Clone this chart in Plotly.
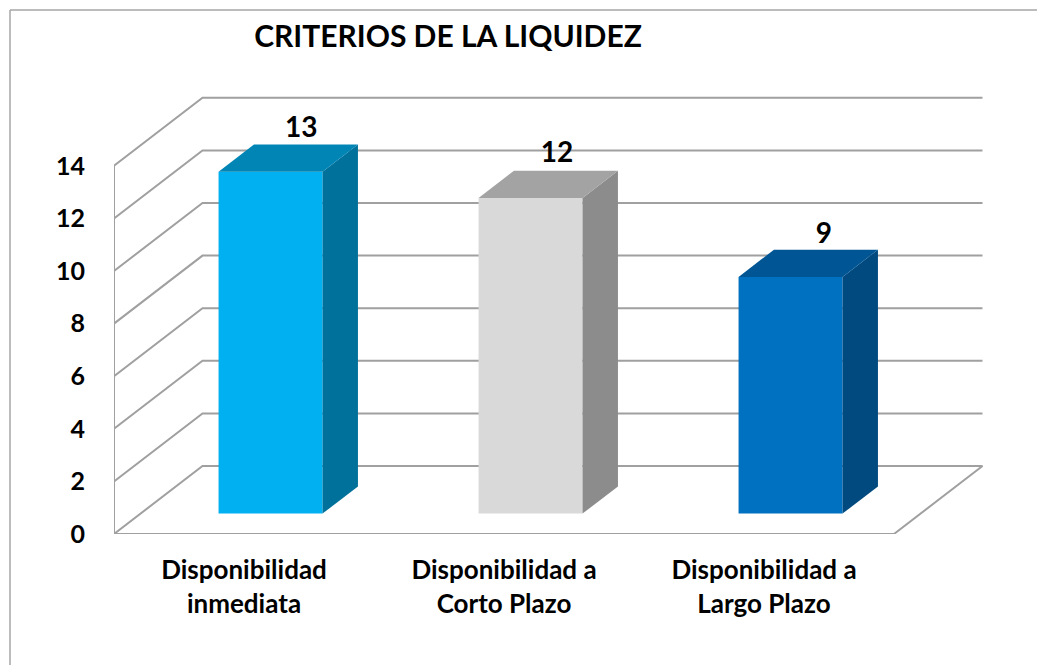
import plotly.graph_objects as go

TITLE = "CRITERIOS DE LA LIQUIDEZ"
categories = ["Disponibilidad<br>inmediata", "Disponibilidad a<br>Corto Plazo", "Disponibilidad a<br>Largo Plazo"]
values = [13, 12, 9]
y_ticks = [0, 2, 4, 6, 8, 10, 12, 14]
front_colors = ["#00B0F0", "#D9D9D9", "#0070C0"]
side_colors = ["#00719B", "#8C8C8C", "#004A7F"]
top_colors = ["#0085B5", "#A3A3A3", "#005594"]

FONT = "Lato"
W, H = 1037, 665
L, B = 114, 131
CAT_PX, UNIT_PX = 260.0, 26.3
DX, DY = 88.5 / CAT_PX, 68 / UNIT_PX   # oblique depth offset in axis units
GRID = "#A0A0A0"
LABEL_NUDGE_X = [0.02, 0.004, 0.03]    # small horizontal label shifts, axis units
LABEL_NUDGE_Y = [1.05, 1.1, 1.05]      # small vertical label shifts, axis units


def proj(x, v, z):
    return x + DX * z, v + DY * z


def poly(pts, color):
    xs = [p[0] for p in pts] + [pts[0][0]]
    ys = [p[1] for p in pts] + [pts[0][1]]
    return go.Scatter(x=xs, y=ys, mode="lines", fill="toself", fillcolor=color,
                      line=dict(width=0, color=color), hoverinfo="skip")


def line(pts, w=2):
    return go.Scatter(x=[p[0] for p in pts], y=[p[1] for p in pts], mode="lines",
                      line=dict(color=GRID, width=w), hoverinfo="skip")


fig = go.Figure()
n = len(categories)

# walls, floor and gridlines
for t in y_ticks:
    fig.add_trace(line([proj(0, t, 0), proj(0, t, 1), proj(n, t, 1)]))
fig.add_trace(line([proj(0, 0, 0), proj(0, y_ticks[-1], 0)]))
fig.add_trace(line([proj(0, 0, 0), proj(n, 0, 0), proj(n, 0, 1)]))

# bars
gap, z0, z1 = 0.3, 0.3, 0.7
for i, v in enumerate(values):
    a, b = i + gap, i + 1 - gap
    fig.add_trace(poly([proj(a, 0, z0), proj(b, 0, z0), proj(b, v, z0), proj(a, v, z0)], front_colors[i]))
    fig.add_trace(poly([proj(b, 0, z0), proj(b, 0, z1), proj(b, v, z1), proj(b, v, z0)], side_colors[i]))
    fig.add_trace(poly([proj(a, v, z0), proj(b, v, z0), proj(b, v, z1), proj(a, v, z1)], top_colors[i]))

# data labels
lab = [proj(i + 0.5, v, 0.5) for i, v in enumerate(values)]
fig.add_trace(go.Scatter(
    x=[p[0] + 0.03 + LABEL_NUDGE_X[i] for i, p in enumerate(lab)],
    y=[p[1] + LABEL_NUDGE_Y[i] for i, p in enumerate(lab)],
    mode="text", text=[f"<b>{v}</b>" for v in values], textposition="middle center",
    textfont=dict(family=FONT, size=28, color="#000000"), hoverinfo="skip"))


def px(x):
    return x / W


def py(y):
    return 1 - y / H


# chart frame: only top and left edges are visible in the picture
frame = [
    dict(type="line", xref="paper", yref="paper", layer="below",
         x0=(10 - L) / (W - L), x1=1, y0=(H - 10 - B) / (H - B), y1=(H - 10 - B) / (H - B),
         line=dict(color="#A6A6A6", width=1.5)),
    dict(type="line", xref="paper", yref="paper", layer="below",
         x0=(10 - L) / (W - L), x1=(10 - L) / (W - L), y0=-B / (H - B), y1=(H - 10 - B) / (H - B),
         line=dict(color="#A6A6A6", width=1.5)),
]

fig.update_layout(
    width=W, height=H,
    margin=dict(l=L, r=0, t=0, b=B),
    paper_bgcolor="#FFFFFF", plot_bgcolor="rgba(0,0,0,0)",
    showlegend=False, hovermode=False, shapes=frame,
    title=dict(text=f"<b>{TITLE}</b>", x=px(448), xref="container", xanchor="center",
               y=py(36), yref="container", yanchor="middle",
               font=dict(family=FONT, size=30, color="#000000")),
    xaxis=dict(range=[0, (W - L) / CAT_PX], tickmode="array",
               tickvals=[i + 0.5 for i in range(n)],
               ticktext=[f"<b>{c.replace('<br>', '</b><br><b>')}</b>" for c in categories],
               showgrid=False, zeroline=False, showline=False,
               ticks="outside", ticklen=13, tickcolor="rgba(0,0,0,0)",
               tickfont=dict(family=FONT, size=26, color="#000000")),
    yaxis=dict(range=[0, (H - B) / UNIT_PX], tickmode="array", tickvals=y_ticks,
               ticktext=[f"<b>{t}</b>" for t in y_ticks],
               showgrid=False, zeroline=False, showline=False,
               ticks="outside", ticklen=23, tickcolor="rgba(0,0,0,0)",
               tickfont=dict(family=FONT, size=25, color="#000000")),
)

fig.write_html("out.html", config={"displayModeBar": False},
               post_script="document.body.style.margin='0';")
